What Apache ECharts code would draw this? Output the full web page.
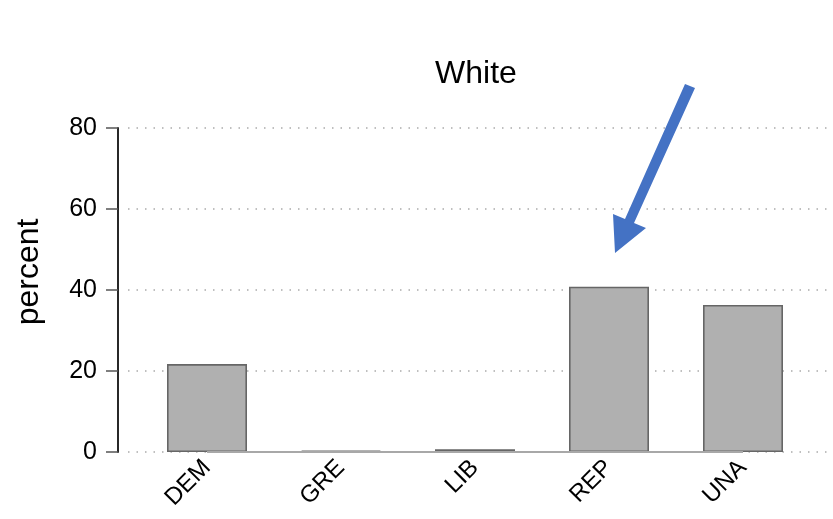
<!DOCTYPE html>
<html>
<head>
<meta charset="utf-8">
<script src="https://cdn.jsdelivr.net/npm/echarts@6/dist/echarts.min.js"></script>
<style>
  html, body { margin: 0; padding: 0; background: #fff; }
  #chart { width: 833px; height: 519px; }
</style>
</head>
<body>
<div id="chart"></div>
<script>
// datos
const parties = ['DEM', 'GRE', 'LIB', 'REP', 'UNA'];
const percentWhite = [21.7, 0.3, 0.7, 40.8, 36.3];
const yTicks = [0, 20, 40, 60, 80];

const font = 'Liberation Sans, Arial, sans-serif';
const chart = echarts.init(document.getElementById('chart'));

const option = {
  animation: false,
  title: {
    text: 'White',
    left: 471,
    top: 53,
    textAlign: 'center',
    textStyle: { fontFamily: font, fontSize: 32, fontWeight: 'normal', color: '#000' }
  },
  grid: [
    { left: 140, width: 670, top: 128, bottom: 67, outerBoundsMode: 'none' },
    // solo para las líneas de puntos que cruzan todo el panel
    { left: 128, right: 0, top: 128, bottom: 67, outerBoundsMode: 'none' }
  ],
  xAxis: [
    {
      type: 'category',
      gridIndex: 0,
      data: parties,
      axisLine: { show: false },
      axisTick: { show: false },
      axisLabel: {
        rotate: 45,
        margin: 12,
        fontFamily: font,
        fontSize: 24,
        color: '#000'
      }
    },
    { type: 'value', gridIndex: 1, min: 0, max: 1, show: false }
  ],
  yAxis: [
    {
      type: 'value',
      gridIndex: 0,
      min: yTicks[0],
      max: yTicks[yTicks.length - 1],
      interval: 20,
      offset: 22,
      name: 'percent',
      nameLocation: 'middle',
      nameGap: 73,
      nameTextStyle: { fontFamily: font, fontSize: 32, color: '#000', padding: [0, 0, 0, 36] },
      axisLine: { show: true, lineStyle: { color: '#111', width: 1.8 } },
      axisTick: { show: true, length: 12, lineStyle: { color: '#555', width: 1.5 } },
      axisLabel: { fontFamily: font, fontSize: 25, color: '#000', margin: 21 },
      splitLine: { show: false }
    },
    {
      type: 'value',
      gridIndex: 1,
      min: 0,
      max: 80,
      interval: 20,
      axisLine: { show: false },
      axisTick: { show: false },
      axisLabel: { show: false },
      splitLine: { show: true, lineStyle: { color: '#aaa', width: 1.5, type: [1.5, 7] } }
    }
  ],
  series: [
    {
      type: 'bar',
      xAxisIndex: 0,
      yAxisIndex: 0,
      data: percentWhite,
      barWidth: 80,
      itemStyle: { color: '#b0b0b0', borderColor: '#666', borderWidth: 1.6 },
      markLine: {
        silent: true,
        symbol: 'none',
        label: { show: false },
        lineStyle: { color: '#a8a8a8', width: 2, type: 'solid' },
        data: [[
          { xAxis: parties[0], yAxis: 0 },
          { xAxis: parties[parties.length - 1], yAxis: 0 }
        ]]
      },
      z: 3
    }
  ],
  graphic: [
    {
      type: 'polygon',
      shape: {
        points: [[685, 84], [695, 88], [634, 223], [646, 228], [615, 253], [613, 214], [625, 219]]
      },
      style: { fill: '#4472C4' },
      z: 10
    }
  ]
};

chart.setOption(option);
</script>
</body>
</html>
